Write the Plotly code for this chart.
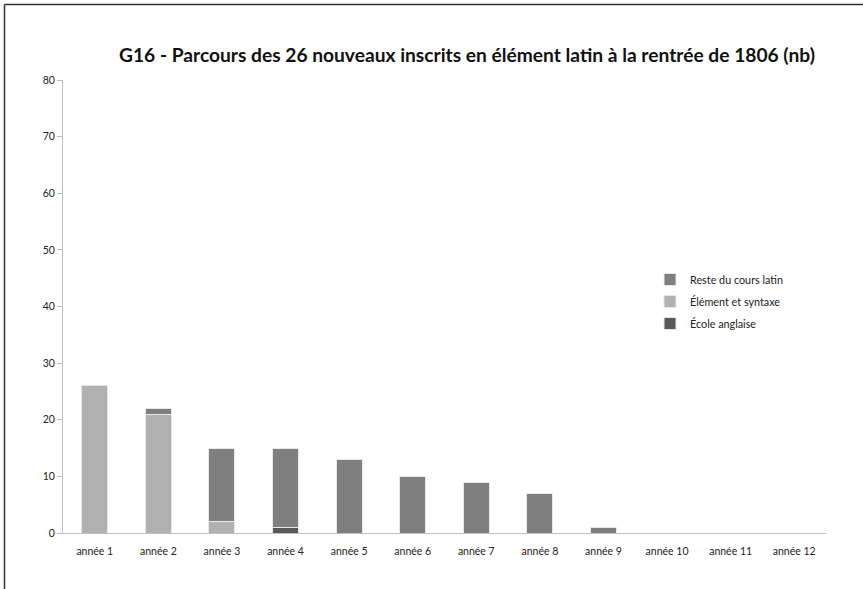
import plotly.graph_objects as go

categories = ["année 1", "année 2", "année 3", "année 4", "année 5", "année 6",
              "année 7", "année 8", "année 9", "année 10", "année 11", "année 12"]
ecole_anglaise = [0, 0, 0, 1, 0, 0, 0, 0, 0, 0, 0, 0]
element_syntaxe = [26, 21, 2, 0, 0, 0, 0, 0, 0, 0, 0, 0]
reste_cours_latin = [0, 1, 13, 14, 13, 10, 9, 7, 1, 0, 0, 0]
y_ticks = [0, 10, 20, 30, 40, 50, 60, 70, 80]

FONT = "Lato"
fig = go.Figure()
fig.add_trace(go.Bar(x=categories, y=ecole_anglaise, name="École anglaise",
                     legendgroup="c", legendrank=3,
                     marker=dict(color="#595959", line=dict(color="#e8e8e8", width=1))))
fig.add_trace(go.Bar(x=categories, y=element_syntaxe, name="Élément et syntaxe",
                     legendgroup="b", legendrank=2,
                     marker=dict(color="#b1b1b1", line=dict(color="#e8e8e8", width=1))))
fig.add_trace(go.Bar(x=categories, y=reste_cours_latin, name="Reste du cours latin",
                     legendgroup="a", legendrank=1,
                     marker=dict(color="#7f7f7f", line=dict(color="#e8e8e8", width=1))))

W, H = 863, 589
L, R, T, B = 63, 37, 80, 56
pw, ph = W - L - R, H - T - B

def px(x):
    return (x - L) / pw

def py(y):
    return (H - B - y) / ph

fig.update_layout(
    width=W, height=H,
    margin=dict(l=L, r=R, t=T, b=B),
    barmode="stack", bargap=0.59,
    paper_bgcolor="white", plot_bgcolor="white",
    font=dict(family=FONT, size=10, color="#333333"),
    title=dict(text="<b>G16 - Parcours des 26 nouveaux inscrits en élément latin à la rentrée de 1806 (nb)</b>",
               x=467 / W, xanchor="center", y=1 - 55 / H, yanchor="middle",
               font=dict(family=FONT, size=19.2, color="#111111")),
    legend=dict(x=px(650), y=py(265), xanchor="left", yanchor="top",
                traceorder="grouped", tracegroupgap=3,
                font=dict(family=FONT, size=10.8, color="#222222"),
                bgcolor="rgba(0,0,0,0)", itemwidth=30),
    xaxis=dict(showgrid=False, showline=True, linecolor="#bfbfbf", linewidth=1,
               ticks="", ticklabelstandoff=8,
               tickfont=dict(size=10.5, color="#222222"), fixedrange=True),
    yaxis=dict(range=[0, 80], tickvals=y_ticks, showgrid=False, zeroline=False,
               showline=True, linecolor="#bfbfbf", linewidth=1,
               ticks="outside", ticklen=5, tickcolor="#bfbfbf",
               tickfont=dict(size=10.5, color="#222222"), fixedrange=True),
    shapes=[
        dict(type="line", xref="paper", yref="paper", x0=px(4.5), x1=px(W), y0=py(4.5), y1=py(4.5),
             line=dict(color="#333333", width=1.5)),
        dict(type="line", xref="paper", yref="paper", x0=px(4.5), x1=px(4.5), y0=py(4.5), y1=py(H),
             line=dict(color="#333333", width=1.5)),
    ],
)

fig.write_html("out.html", config={"displayModeBar": False},
               post_script="document.body.style.margin='0px';")
